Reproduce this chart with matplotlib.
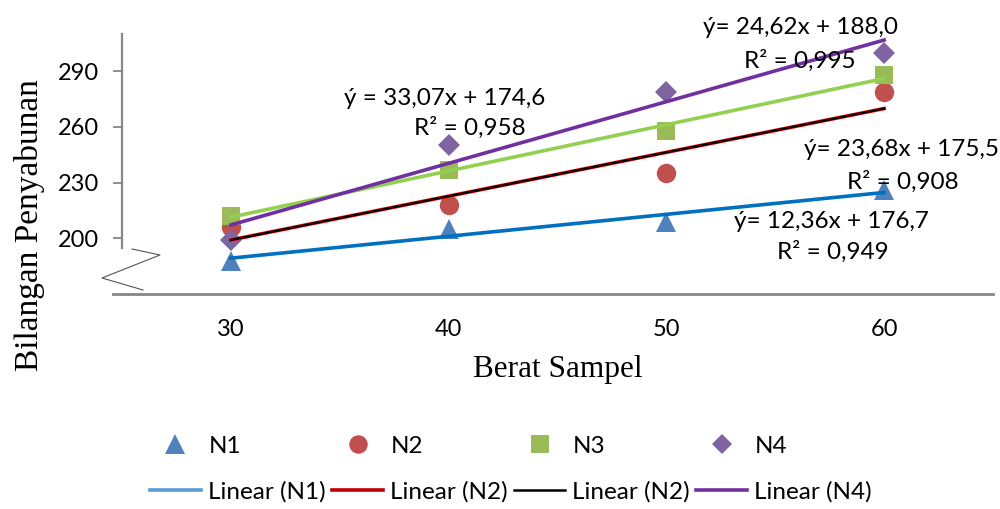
import numpy as np
import matplotlib
matplotlib.use("Agg")
import matplotlib.pyplot as plt
from matplotlib.lines import Line2D

# data
berat = [30, 40, 50, 60]
n1 = [188, 205, 209, 226]
n2 = [206, 218, 235, 279]
n3 = [212, 237, 258, 288]
n4 = [199, 250, 279, 300]
series_names = ["N1", "N2", "N3", "N4"]
trend_names = ["Linear (N1)", "Linear (N2)", "Linear (N2)", "Linear (N4)"]
y_ticks = [200, 230, 260, 290]

eq_labels = [
    ("ý = 33,07x + 174,6", "R² = 0,958", 39.83, 275.4, 40.98, 259.4),
    ("ý= 24,62x + 188,0", "R² = 0,995", 56.18, 313.4, 56.13, 295.7),
    ("ý= 23,68x + 175,5", "R² = 0,908", 60.82, 247.6, 60.85, 230.5),
    ("ý= 12,36x + 176,7", "R² = 0,949", 57.60, 209.1, 57.65, 192.5),
]

sans = "Lato"
serif = "Liberation Serif"
axis_gray = "#868686"

fig = plt.figure(figsize=(10, 5.09), dpi=100)
ax = fig.add_axes([0.122, 0.4224, 0.871, 0.5106])

markers = ["^", "o", "s", "D"]
mcolors = ["#4F81BD", "#C0504D", "#9BBB59", "#8064A2"]
msizes = [15, 14, 13.5, 11]
data = [n1, n2, n3, n4]

x = np.array(berat, dtype=float)
for vals, m, c, ms in zip(data, markers, mcolors, msizes):
    ax.plot(x, vals, linestyle="none", marker=m, color=c, markersize=ms,
            markeredgewidth=0, zorder=2, clip_on=False)

def trend(vals):
    k, b = np.polyfit(x, vals, 1)
    xx = np.array([x[0], x[-1]])
    return xx, k * xx + b

xx, yy = trend(n1)
ax.plot(xx, yy, color="#0070C0", lw=2.6, zorder=3)
xx, yy = trend(n2)
ax.plot(xx, yy, color="#FF0000", lw=2.6, zorder=3)
ax.plot(xx, yy, color="black", lw=1.6, zorder=4)
xx, yy = trend(n3)
ax.plot(xx, yy, color="#92D050", lw=2.6, zorder=3)
xx, yy = trend(n4)
ax.plot(xx, yy, color="#7030A0", lw=2.6, zorder=3, clip_on=False)

ax.set_xlim(25, 65)
ax.set_ylim(170, 310)
ax.set_xticks(berat)
ax.set_yticks(y_ticks)
ax.set_xticklabels([str(b) for b in berat], fontfamily=sans, fontsize=17)
ax.set_yticklabels([str(t) for t in y_ticks], fontfamily=sans, fontsize=17)
ax.tick_params(axis="x", length=0, pad=18)
ax.tick_params(axis="y", length=6.5, width=1.3, color=axis_gray, pad=10)

for s in ["top", "right"]:
    ax.spines[s].set_visible(False)
ax.spines["left"].set_color(axis_gray)
ax.spines["left"].set_linewidth(1.6)
ax.spines["left"].set_bounds(195, 310)
ax.spines["bottom"].set_color(axis_gray)
ax.spines["bottom"].set_linewidth(2)

# axis break marks (figure pixels -> fraction)
W, H = 1000, 509
zig = [(132, 249), (160, 255), (102, 278), (143, 290)]
fig.add_artist(Line2D([p[0] / W for p in zig], [1 - p[1] / H for p in zig],
                      color="#555555", lw=0.8))
fig.add_artist(Line2D([113 / W, 122 / W], [1 - 294 / H, 1 - 294 / H],
                      color=axis_gray, lw=2))

for eq, r2, ex, ey, rx, ry in eq_labels:
    ax.text(ex, ey, eq, ha="center", va="center", fontfamily=sans,
            fontsize=17.5, clip_on=False, zorder=5)
    ax.text(rx, ry, r2, ha="center", va="center", fontfamily=sans,
            fontsize=17.5, clip_on=False, zorder=5)

ax.set_xlabel("Berat Sampel", fontfamily=serif, fontsize=22.5, labelpad=11)
fig.text(0.030, 1 - 225 / H, "Bilangan Penyabunan", rotation=90,
         ha="center", va="center", fontfamily=serif, fontsize=24)

# legend: markers row, then trendline row
tcolors = ["#5B9BD5", "#C00000", "black", "#7030A0"]
handles, labels = [], []
for i in range(4):
    handles.append(Line2D([], [], linestyle="none", marker=markers[i],
                          color=mcolors[i], markersize=msizes[i] * 0.95,
                          markeredgewidth=0))
    labels.append(series_names[i])
    handles.append(Line2D([], [], color=tcolors[i], lw=2.6 if i != 2 else 1.8))
    labels.append(trend_names[i])

fig.legend(handles, labels, ncol=4, loc="center",
           bbox_to_anchor=(0.511, 1 - 469 / H), frameon=False,
           prop={"family": sans, "size": 17.5}, handlelength=2.1,
           handletextpad=0.3, columnspacing=0.25, labelspacing=1.0)

fig.savefig("out.png", dpi=100)
